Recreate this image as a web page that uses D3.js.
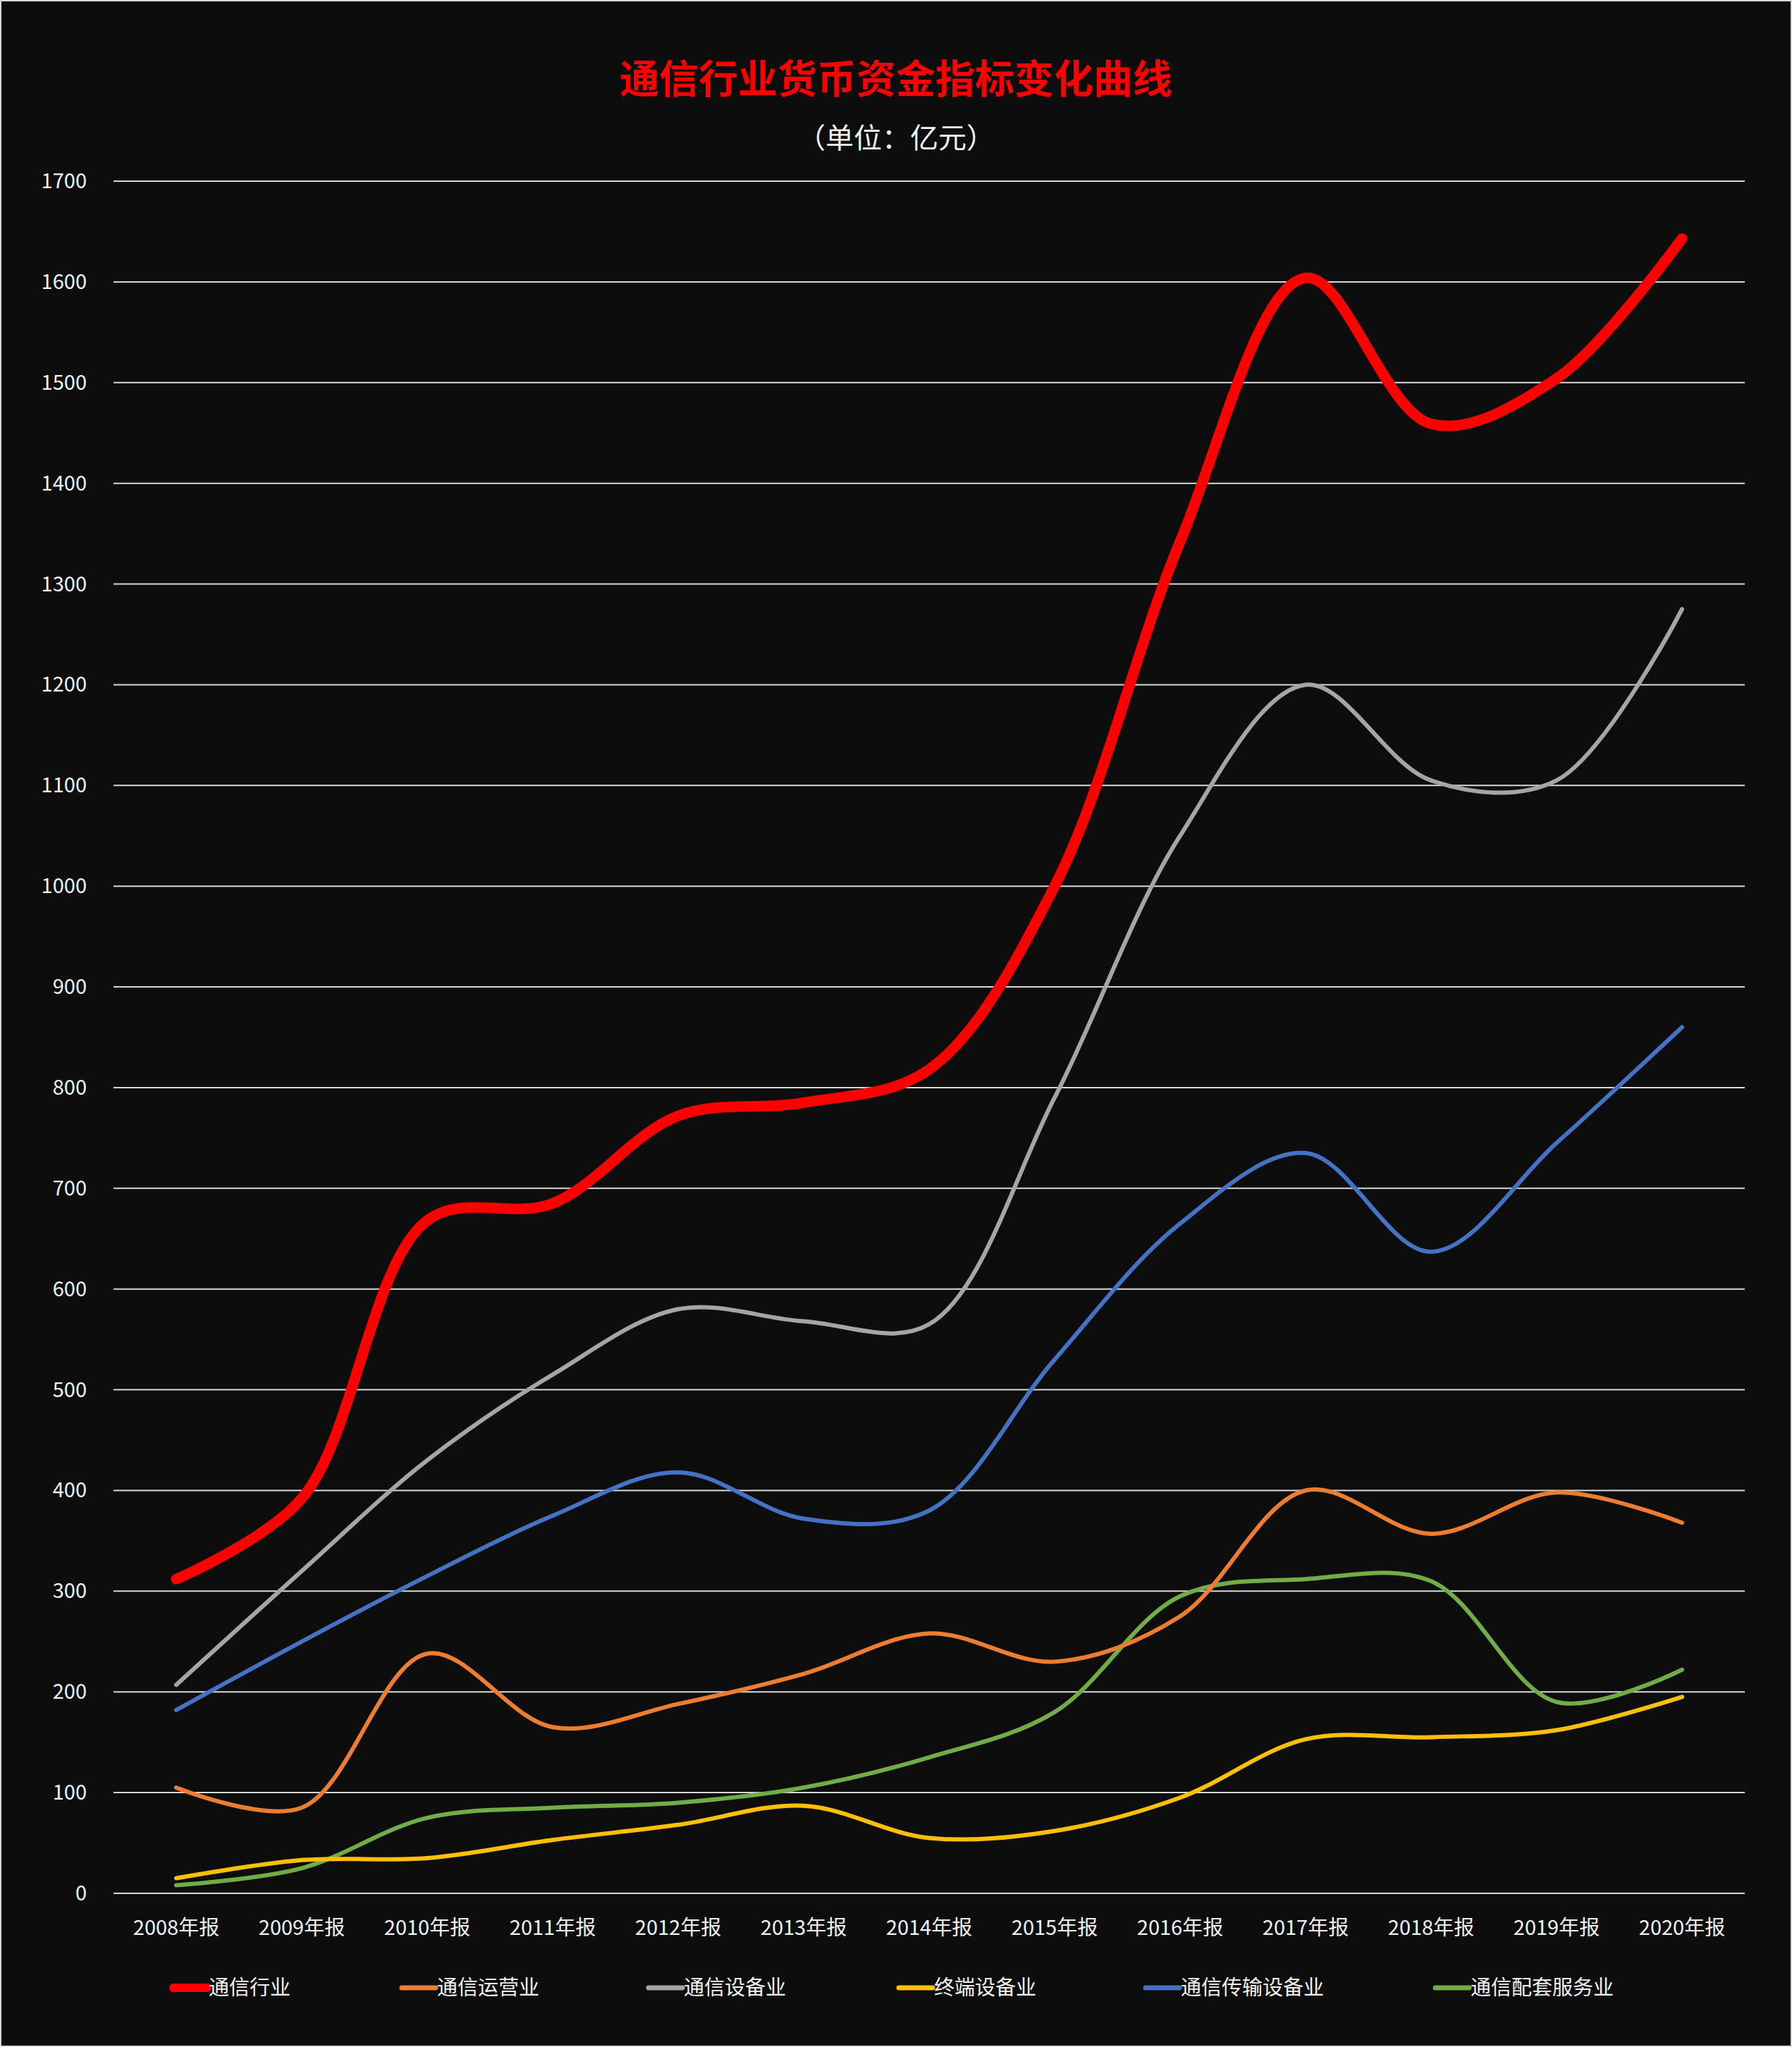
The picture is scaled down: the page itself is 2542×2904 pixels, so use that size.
<!DOCTYPE html>
<meta charset="utf-8">
<style>
body { margin:0; background:#0d0d0d; }
text { font-family: "Noto Sans CJK SC", "Noto Sans", sans-serif; }
</style>
<body>
<script src="https://cdn.jsdelivr.net/npm/d3@7"></script>
<script>
// DATA
var years = ["2008年报","2009年报","2010年报","2011年报","2012年报","2013年报","2014年报","2015年报","2016年报","2017年报","2018年报","2019年报","2020年报"];
var yTicks = [0,100,200,300,400,500,600,700,800,900,1000,1100,1200,1300,1400,1500,1600,1700];
var industry  = [312,392,668,685,772,785,818,1000,1342,1604,1459,1504,1643];
var operators = [105,85,238,165,188,218,258,230,275,400,357,398,368];
var equipment = [207,320,430,515,580,568,565,790,1050,1200,1105,1105,1275];
var terminal  = [15,33,35,53,68,87,55,62,95,153,155,162,195];
var transport = [182,250,315,375,418,372,380,530,665,735,637,745,860];
var supporting = [8,25,75,85,90,105,135,180,295,312,310,190,222];

var series = [
  {name:"通信行业", values:industry, color:"#ff0000", w:15},
  {name:"通信运营业", values:operators, color:"#ed7d31", w:6},
  {name:"通信设备业", values:equipment, color:"#a5a5a5", w:6},
  {name:"终端设备业", values:terminal, color:"#ffc000", w:6},
  {name:"通信传输设备业", values:transport, color:"#4472c4", w:6},
  {name:"通信配套服务业", values:supporting, color:"#70ad47", w:6}
];

var width = 2542, height = 2904;
var plotLeft = 161, plotRight = 2475, plotTop = 257, plotBottom = 2686;

var svg = d3.select("body").append("svg").attr("width", width).attr("height", height);
svg.append("rect").attr("width", width).attr("height", height).attr("fill", "#0d0d0d")
   .attr("stroke", "#d9d9d9").attr("stroke-width", 4);

var x = d3.scaleBand().domain(years).range([plotLeft, plotRight]);
var y = d3.scaleLinear().domain([0,1700]).range([plotBottom, plotTop]);

// GRID
svg.append("g").selectAll("line").data(yTicks).join("line")
  .attr("x1", plotLeft).attr("x2", plotRight)
  .attr("y1", d => y(d)).attr("y2", d => y(d))
  .attr("stroke", "#d9d9d9").attr("stroke-width", 2);

svg.append("g").selectAll("text").data(yTicks).join("text")
  .attr("x", 123).attr("y", d => y(d) + 10)
  .attr("text-anchor", "end").attr("font-size", 29).attr("fill", "#f2f2f2")
  .text(d => d);

svg.append("g").selectAll("text").data(years).join("text")
  .attr("x", d => x(d) + x.bandwidth()/2).attr("y", 2745)
  .attr("text-anchor", "middle").attr("font-size", 29).attr("fill", "#f2f2f2")
  .text(d => d);

// LINES
var line = d3.line()
  .x((d,i) => x(years[i]) + x.bandwidth()/2)
  .y(d => y(d))
  .curve(d3.curveCatmullRom.alpha(0.5));

series.slice().reverse().forEach(function(s) {
  svg.append("path").attr("d", line(s.values)).attr("fill", "none")
    .attr("stroke", s.color).attr("stroke-width", s.w).attr("stroke-linecap", "round");
});

// TITLE
svg.append("text").attr("x", width/2).attr("y", 132).attr("text-anchor", "middle")
  .attr("font-size", 56).attr("font-weight", "bold").attr("fill", "#ff0000")
  .text("通信行业货币资金指标变化曲线");
svg.append("text").attr("x", width/2).attr("y", 210).attr("text-anchor", "middle")
  .attr("font-size", 40).attr("fill", "#f2f2f2")
  .text("（单位：亿元）");

// LEGEND
var legendX = [246, 570, 920, 1275, 1625, 2036];
series.forEach(function(s, i) {
  svg.append("line").attr("x1", legendX[i]).attr("x2", legendX[i] + 48)
    .attr("y1", 2820).attr("y2", 2820)
    .attr("stroke", s.color).attr("stroke-width", s.w === 15 ? 12 : 7).attr("stroke-linecap", "round");
  svg.append("text").attr("x", legendX[i] + 50).attr("y", 2830)
    .attr("font-size", 29).attr("fill", "#f2f2f2").text(s.name);
});
</script>
</body>
